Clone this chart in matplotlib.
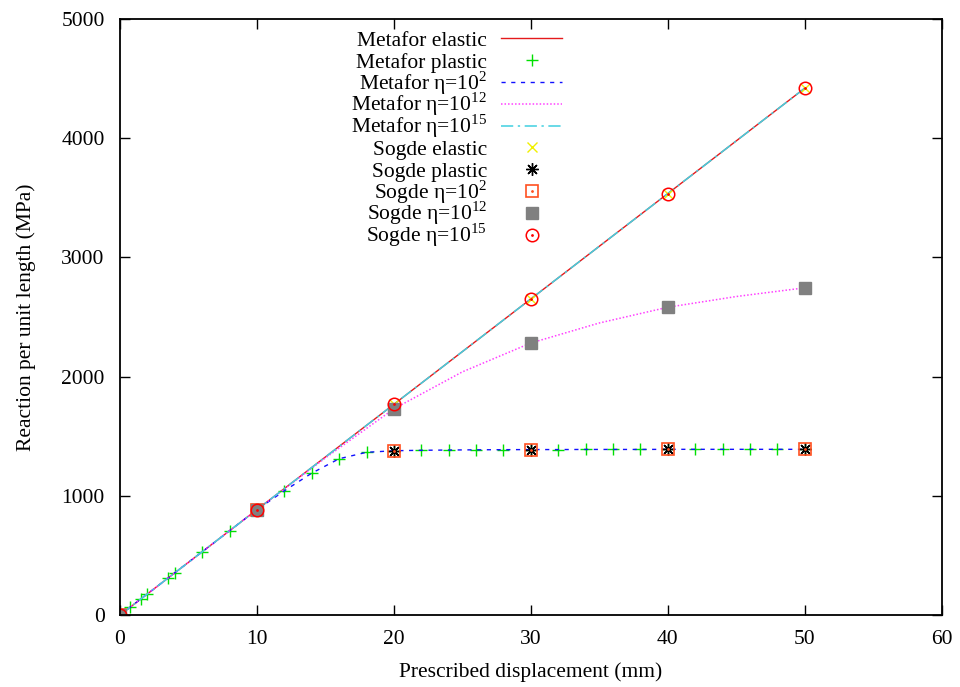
import numpy as np
import matplotlib
matplotlib.use("Agg")
import matplotlib.pyplot as plt

plt.rcParams['font.family'] = ['Liberation Serif', 'DejaVu Serif']
plt.rcParams['mathtext.fontset'] = 'custom'
plt.rcParams['mathtext.rm'] = 'Liberation Serif'

# Metafor curves
x_el = [0, 10, 20, 30, 40, 50]
y_el = [0, 884, 1768, 2652, 3536, 4420]

x_pl = [0, 0.75, 1.5, 2, 3.5, 4, 6, 8, 10, 12, 14, 16, 18, 20, 22, 24, 26, 28,
        30, 32, 34, 36, 38, 40, 42, 44, 46, 48, 50]
y_pl = [0, 66, 133, 177, 309, 354, 530, 707, 884, 1042, 1190, 1311, 1365, 1378,
        1382, 1384, 1386, 1387, 1388, 1388, 1389, 1389, 1389, 1390, 1390, 1390,
        1390, 1390, 1390]

x_v12 = [0, 5, 10, 15, 20, 25, 30, 35, 40, 45, 50]
y_v12 = [0, 442, 884, 1318, 1730, 2040, 2282, 2450, 2582, 2672, 2745]

# Sogde points
x_s = [0, 10, 20, 30, 40, 50]
y_s_el = [0, 884, 1768, 2652, 3536, 4420]
y_s_pl = [0, 884, 1378, 1388, 1390, 1390]
y_s_v12 = [0, 884, 1730, 2282, 2582, 2745]

labels = ['Metafor elastic', 'Metafor plastic',
          'Metafor η=10$^{\\mathregular{2}}$',
          'Metafor η=10$^{\\mathregular{12}}$',
          'Metafor η=10$^{\\mathregular{15}}$',
          'Sogde elastic', 'Sogde plastic',
          'Sogde η=10$^{\\mathregular{2}}$',
          'Sogde η=10$^{\\mathregular{12}}$',
          'Sogde η=10$^{\\mathregular{15}}$']

series = [(x_el, y_el), (x_pl, y_pl), (x_pl, y_pl), (x_v12, y_v12), (x_el, y_el),
          (x_s, y_s_el), (x_s, y_s_pl), (x_s, y_s_pl), (x_s, y_s_v12), (x_s, y_s_el)]

styles = [
    dict(color='#e41a1c', lw=1),
    dict(ls='none', marker='+', ms=9, mew=1, color='#00e000'),
    dict(color='#1010ff', lw=1, ls=(0, (3, 4))),
    dict(color='#ff40ff', lw=1.1, ls=(0, (1, 1.3))),
    dict(color='#40d0e0', lw=1.1, ls=(0, (8, 3, 1.5, 3))),
    dict(ls='none', marker='x', ms=7, mew=1, color='#f0f000'),
    dict(ls='none', marker=(8, 2, 0), ms=9, mew=1, color='black'),
    dict(ls='none', marker='s', ms=9, mew=1.2, mfc='none', color='#ff5020'),
    dict(ls='none', marker='s', ms=9, color='#808080'),
    dict(ls='none', marker='o', ms=9, mew=1.1, mfc='none', color='#ff0000'),
]

fig = plt.figure(figsize=(9.6, 6.87), dpi=100)
ax = fig.add_axes([0.125, 0.1048, 0.856, 0.8675])


def draw(xs, ys, st, **kw):
    ax.plot(xs, ys, **st, **kw)
    # gnuplot open square / circle carry a dot in the middle
    if st.get('mfc') == 'none' and st.get('marker') in ('s', 'o'):
        ax.plot(xs, ys, ls='none', marker='.', ms=2, color=st['color'], **kw)


for (xs, ys), st in zip(series, styles):
    draw(xs, ys, st)

ax.set_xlim(0, 60)
ax.set_ylim(0, 5000)
ax.set_xticks(range(0, 61, 10))
ax.set_yticks(range(0, 5001, 1000))
ax.tick_params(direction='in', top=True, right=True, length=7, width=1,
               labelsize=15.5, pad=11)
for s in ax.spines.values():
    s.set_linewidth(1.3)

ax.set_xlabel('Prescribed displacement (mm)', fontsize=15.5, labelpad=9)
ax.set_ylabel('Reaction per unit length (MPa)', fontsize=15.5, labelpad=18)

# gnuplot-style key: text right aligned, sample on the right, fixed row step
x_txt, x0, x1, xm = 0.4465, 0.4635, 0.5377, 0.5009
y_base, step, off = 0.9552, 0.03658, 0.0124
for i, (lab, st) in enumerate(zip(labels, styles)):
    yb = y_base - i * step
    ax.text(x_txt, yb, lab, transform=ax.transAxes, ha='right', va='baseline',
            fontsize=15.5)
    if st.get('ls') == 'none':
        draw([xm], [yb + off], st, transform=ax.transAxes, clip_on=False)
    else:
        ax.plot([x0, x1], [yb + off, yb + off], transform=ax.transAxes,
                clip_on=False, **st)

fig.savefig('out.png', dpi=100)
